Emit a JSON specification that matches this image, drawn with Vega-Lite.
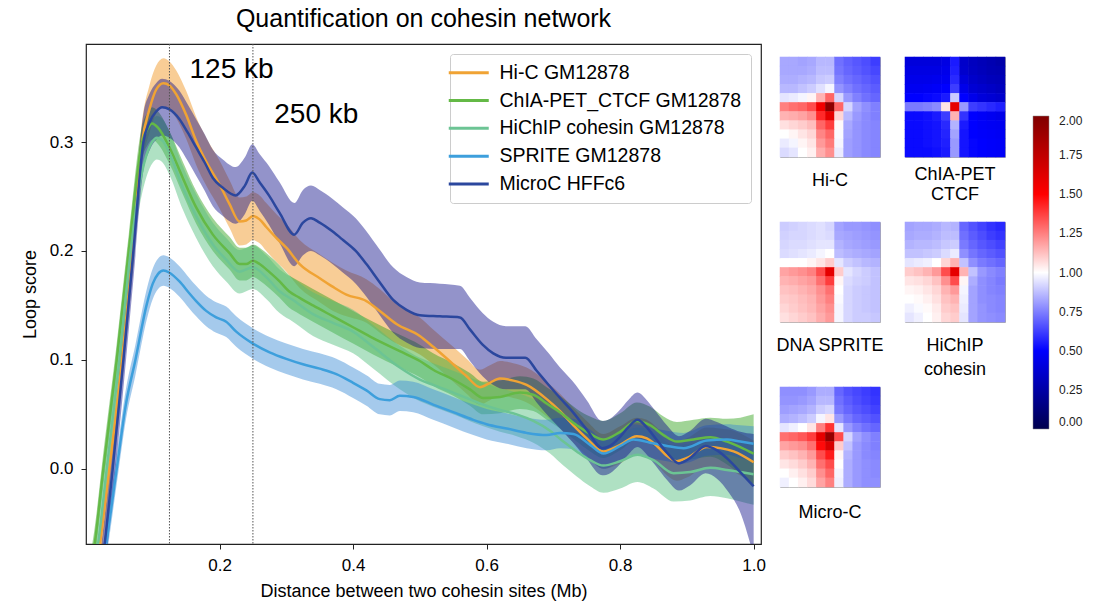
{
"$schema":"https://vega.github.io/schema/vega-lite/v6.json",
"background":"white",
"padding":{"left":20,"top":5,"right":5,"bottom":5},
"config":{"font":"Liberation Sans","view":{"stroke":null},"axis":{"labelFont":"Liberation Sans","titleFont":"Liberation Sans"},"legend":{"labelFont":"Liberation Sans"},"title":{"font":"Liberation Sans"}},
"datasets":{
"curves":[
{"s":"Hi-C GM12878","x":0.01,"y":-0.12,"lo":-0.14,"hi":-0.10},
{"s":"Hi-C GM12878","x":0.021,"y":-0.069,"lo":-0.089,"hi":-0.049},
{"s":"Hi-C GM12878","x":0.035,"y":0.0,"lo":-0.02,"hi":0.02},
{"s":"Hi-C GM12878","x":0.054,"y":0.1,"lo":0.08,"hi":0.12},
{"s":"Hi-C GM12878","x":0.070,"y":0.2,"lo":0.18,"hi":0.22},
{"s":"Hi-C GM12878","x":0.084,"y":0.3,"lo":0.28,"hi":0.32},
{"s":"Hi-C GM12878","x":0.095,"y":0.33,"lo":0.308,"hi":0.352},
{"s":"Hi-C GM12878","x":0.105,"y":0.348,"lo":0.326,"hi":0.37},
{"s":"Hi-C GM12878","x":0.116,"y":0.354,"lo":0.332,"hi":0.377},
{"s":"Hi-C GM12878","x":0.125,"y":0.352,"lo":0.33,"hi":0.374},
{"s":"Hi-C GM12878","x":0.135,"y":0.344,"lo":0.322,"hi":0.366},
{"s":"Hi-C GM12878","x":0.15,"y":0.325,"lo":0.303,"hi":0.347},
{"s":"Hi-C GM12878","x":0.165,"y":0.301,"lo":0.279,"hi":0.323},
{"s":"Hi-C GM12878","x":0.18,"y":0.282,"lo":0.26,"hi":0.304},
{"s":"Hi-C GM12878","x":0.20,"y":0.261,"lo":0.239,"hi":0.283},
{"s":"Hi-C GM12878","x":0.215,"y":0.243,"lo":0.221,"hi":0.265},
{"s":"Hi-C GM12878","x":0.23,"y":0.227,"lo":0.205,"hi":0.249},
{"s":"Hi-C GM12878","x":0.24,"y":0.228,"lo":0.206,"hi":0.25},
{"s":"Hi-C GM12878","x":0.25,"y":0.232,"lo":0.21,"hi":0.254},
{"s":"Hi-C GM12878","x":0.26,"y":0.229,"lo":0.207,"hi":0.251},
{"s":"Hi-C GM12878","x":0.27,"y":0.222,"lo":0.2,"hi":0.244},
{"s":"Hi-C GM12878","x":0.285,"y":0.212,"lo":0.19,"hi":0.234},
{"s":"Hi-C GM12878","x":0.30,"y":0.203,"lo":0.181,"hi":0.225},
{"s":"Hi-C GM12878","x":0.32,"y":0.188,"lo":0.166,"hi":0.21},
{"s":"Hi-C GM12878","x":0.35,"y":0.175,"lo":0.153,"hi":0.197},
{"s":"Hi-C GM12878","x":0.37,"y":0.167,"lo":0.145,"hi":0.189},
{"s":"Hi-C GM12878","x":0.39,"y":0.160,"lo":0.14,"hi":0.182},
{"s":"Hi-C GM12878","x":0.42,"y":0.154,"lo":0.134,"hi":0.174},
{"s":"Hi-C GM12878","x":0.44,"y":0.145,"lo":0.125,"hi":0.165},
{"s":"Hi-C GM12878","x":0.465,"y":0.133,"lo":0.115,"hi":0.151},
{"s":"Hi-C GM12878","x":0.50,"y":0.122,"lo":0.105,"hi":0.139},
{"s":"Hi-C GM12878","x":0.52,"y":0.112,"lo":0.096,"hi":0.128},
{"s":"Hi-C GM12878","x":0.55,"y":0.096,"lo":0.08,"hi":0.112},
{"s":"Hi-C GM12878","x":0.57,"y":0.085,"lo":0.069,"hi":0.101},
{"s":"Hi-C GM12878","x":0.59,"y":0.075,"lo":0.059,"hi":0.091},
{"s":"Hi-C GM12878","x":0.605,"y":0.079,"lo":0.063,"hi":0.095},
{"s":"Hi-C GM12878","x":0.62,"y":0.083,"lo":0.067,"hi":0.099},
{"s":"Hi-C GM12878","x":0.64,"y":0.081,"lo":0.065,"hi":0.097},
{"s":"Hi-C GM12878","x":0.66,"y":0.077,"lo":0.061,"hi":0.093},
{"s":"Hi-C GM12878","x":0.69,"y":0.064,"lo":0.048,"hi":0.08},
{"s":"Hi-C GM12878","x":0.71,"y":0.053,"lo":0.037,"hi":0.069},
{"s":"Hi-C GM12878","x":0.73,"y":0.040,"lo":0.024,"hi":0.056},
{"s":"Hi-C GM12878","x":0.75,"y":0.028,"lo":0.012,"hi":0.044},
{"s":"Hi-C GM12878","x":0.775,"y":0.016,"lo":0.0,"hi":0.032},
{"s":"Hi-C GM12878","x":0.80,"y":0.022,"lo":0.005,"hi":0.039},
{"s":"Hi-C GM12878","x":0.825,"y":0.030,"lo":0.013,"hi":0.047},
{"s":"Hi-C GM12878","x":0.84,"y":0.028,"lo":0.011,"hi":0.045},
{"s":"Hi-C GM12878","x":0.855,"y":0.021,"lo":0.004,"hi":0.038},
{"s":"Hi-C GM12878","x":0.87,"y":0.012,"lo":-0.006,"hi":0.03},
{"s":"Hi-C GM12878","x":0.885,"y":0.007,"lo":-0.011,"hi":0.025},
{"s":"Hi-C GM12878","x":0.90,"y":0.010,"lo":-0.008,"hi":0.028},
{"s":"Hi-C GM12878","x":0.93,"y":0.020,"lo":0.002,"hi":0.038},
{"s":"Hi-C GM12878","x":0.95,"y":0.019,"lo":0.001,"hi":0.037},
{"s":"Hi-C GM12878","x":0.97,"y":0.016,"lo":-0.003,"hi":0.035},
{"s":"Hi-C GM12878","x":1.0,"y":0.006,"lo":-0.014,"hi":0.026},
{"s":"ChIA-PET_CTCF GM12878","x":0.005,"y":-0.10,"lo":-0.115,"hi":-0.085},
{"s":"ChIA-PET_CTCF GM12878","x":0.013,"y":-0.069,"lo":-0.084,"hi":-0.054},
{"s":"ChIA-PET_CTCF GM12878","x":0.026,"y":0.0,"lo":-0.015,"hi":0.015},
{"s":"ChIA-PET_CTCF GM12878","x":0.046,"y":0.1,"lo":0.085,"hi":0.115},
{"s":"ChIA-PET_CTCF GM12878","x":0.064,"y":0.2,"lo":0.185,"hi":0.215},
{"s":"ChIA-PET_CTCF GM12878","x":0.084,"y":0.3,"lo":0.285,"hi":0.315},
{"s":"ChIA-PET_CTCF GM12878","x":0.092,"y":0.312,"lo":0.297,"hi":0.327},
{"s":"ChIA-PET_CTCF GM12878","x":0.099,"y":0.317,"lo":0.302,"hi":0.332},
{"s":"ChIA-PET_CTCF GM12878","x":0.108,"y":0.313,"lo":0.298,"hi":0.328},
{"s":"ChIA-PET_CTCF GM12878","x":0.125,"y":0.295,"lo":0.28,"hi":0.31},
{"s":"ChIA-PET_CTCF GM12878","x":0.145,"y":0.267,"lo":0.252,"hi":0.282},
{"s":"ChIA-PET_CTCF GM12878","x":0.165,"y":0.240,"lo":0.225,"hi":0.255},
{"s":"ChIA-PET_CTCF GM12878","x":0.19,"y":0.215,"lo":0.2,"hi":0.23},
{"s":"ChIA-PET_CTCF GM12878","x":0.215,"y":0.198,"lo":0.183,"hi":0.213},
{"s":"ChIA-PET_CTCF GM12878","x":0.23,"y":0.188,"lo":0.173,"hi":0.203},
{"s":"ChIA-PET_CTCF GM12878","x":0.24,"y":0.188,"lo":0.173,"hi":0.203},
{"s":"ChIA-PET_CTCF GM12878","x":0.25,"y":0.191,"lo":0.176,"hi":0.206},
{"s":"ChIA-PET_CTCF GM12878","x":0.26,"y":0.188,"lo":0.173,"hi":0.203},
{"s":"ChIA-PET_CTCF GM12878","x":0.274,"y":0.181,"lo":0.166,"hi":0.196},
{"s":"ChIA-PET_CTCF GM12878","x":0.29,"y":0.172,"lo":0.157,"hi":0.187},
{"s":"ChIA-PET_CTCF GM12878","x":0.304,"y":0.163,"lo":0.148,"hi":0.178},
{"s":"ChIA-PET_CTCF GM12878","x":0.32,"y":0.157,"lo":0.142,"hi":0.172},
{"s":"ChIA-PET_CTCF GM12878","x":0.34,"y":0.150,"lo":0.135,"hi":0.165},
{"s":"ChIA-PET_CTCF GM12878","x":0.37,"y":0.140,"lo":0.125,"hi":0.155},
{"s":"ChIA-PET_CTCF GM12878","x":0.40,"y":0.130,"lo":0.115,"hi":0.145},
{"s":"ChIA-PET_CTCF GM12878","x":0.43,"y":0.120,"lo":0.105,"hi":0.135},
{"s":"ChIA-PET_CTCF GM12878","x":0.47,"y":0.108,"lo":0.093,"hi":0.123},
{"s":"ChIA-PET_CTCF GM12878","x":0.50,"y":0.099,"lo":0.084,"hi":0.114},
{"s":"ChIA-PET_CTCF GM12878","x":0.52,"y":0.091,"lo":0.076,"hi":0.106},
{"s":"ChIA-PET_CTCF GM12878","x":0.55,"y":0.082,"lo":0.067,"hi":0.097},
{"s":"ChIA-PET_CTCF GM12878","x":0.575,"y":0.073,"lo":0.058,"hi":0.088},
{"s":"ChIA-PET_CTCF GM12878","x":0.595,"y":0.065,"lo":0.05,"hi":0.08},
{"s":"ChIA-PET_CTCF GM12878","x":0.62,"y":0.066,"lo":0.051,"hi":0.081},
{"s":"ChIA-PET_CTCF GM12878","x":0.65,"y":0.070,"lo":0.055,"hi":0.085},
{"s":"ChIA-PET_CTCF GM12878","x":0.67,"y":0.068,"lo":0.053,"hi":0.083},
{"s":"ChIA-PET_CTCF GM12878","x":0.69,"y":0.060,"lo":0.045,"hi":0.075},
{"s":"ChIA-PET_CTCF GM12878","x":0.71,"y":0.052,"lo":0.037,"hi":0.067},
{"s":"ChIA-PET_CTCF GM12878","x":0.735,"y":0.040,"lo":0.025,"hi":0.055},
{"s":"ChIA-PET_CTCF GM12878","x":0.755,"y":0.032,"lo":0.016,"hi":0.048},
{"s":"ChIA-PET_CTCF GM12878","x":0.775,"y":0.027,"lo":0.01,"hi":0.044},
{"s":"ChIA-PET_CTCF GM12878","x":0.80,"y":0.034,"lo":0.017,"hi":0.051},
{"s":"ChIA-PET_CTCF GM12878","x":0.825,"y":0.044,"lo":0.027,"hi":0.061},
{"s":"ChIA-PET_CTCF GM12878","x":0.845,"y":0.040,"lo":0.023,"hi":0.057},
{"s":"ChIA-PET_CTCF GM12878","x":0.865,"y":0.031,"lo":0.014,"hi":0.048},
{"s":"ChIA-PET_CTCF GM12878","x":0.885,"y":0.025,"lo":0.007,"hi":0.043},
{"s":"ChIA-PET_CTCF GM12878","x":0.91,"y":0.027,"lo":0.009,"hi":0.045},
{"s":"ChIA-PET_CTCF GM12878","x":0.935,"y":0.029,"lo":0.011,"hi":0.047},
{"s":"ChIA-PET_CTCF GM12878","x":0.96,"y":0.025,"lo":0.004,"hi":0.046},
{"s":"ChIA-PET_CTCF GM12878","x":0.98,"y":0.020,"lo":-0.005,"hi":0.047},
{"s":"ChIA-PET_CTCF GM12878","x":1.0,"y":0.014,"lo":-0.015,"hi":0.05},
{"s":"HiChIP cohesin GM12878","x":0.005,"y":-0.105,"lo":-0.125,"hi":-0.085},
{"s":"HiChIP cohesin GM12878","x":0.018,"y":-0.069,"lo":-0.089,"hi":-0.049},
{"s":"HiChIP cohesin GM12878","x":0.031,"y":0.0,"lo":-0.02,"hi":0.02},
{"s":"HiChIP cohesin GM12878","x":0.050,"y":0.1,"lo":0.08,"hi":0.12},
{"s":"HiChIP cohesin GM12878","x":0.067,"y":0.2,"lo":0.18,"hi":0.22},
{"s":"HiChIP cohesin GM12878","x":0.080,"y":0.26,"lo":0.24,"hi":0.28},
{"s":"HiChIP cohesin GM12878","x":0.090,"y":0.287,"lo":0.267,"hi":0.307},
{"s":"HiChIP cohesin GM12878","x":0.100,"y":0.301,"lo":0.281,"hi":0.321},
{"s":"HiChIP cohesin GM12878","x":0.106,"y":0.304,"lo":0.284,"hi":0.324},
{"s":"HiChIP cohesin GM12878","x":0.115,"y":0.301,"lo":0.281,"hi":0.321},
{"s":"HiChIP cohesin GM12878","x":0.125,"y":0.290,"lo":0.27,"hi":0.31},
{"s":"HiChIP cohesin GM12878","x":0.145,"y":0.258,"lo":0.238,"hi":0.278},
{"s":"HiChIP cohesin GM12878","x":0.165,"y":0.232,"lo":0.212,"hi":0.252},
{"s":"HiChIP cohesin GM12878","x":0.19,"y":0.206,"lo":0.186,"hi":0.226},
{"s":"HiChIP cohesin GM12878","x":0.21,"y":0.192,"lo":0.172,"hi":0.212},
{"s":"HiChIP cohesin GM12878","x":0.23,"y":0.181,"lo":0.161,"hi":0.201},
{"s":"HiChIP cohesin GM12878","x":0.25,"y":0.185,"lo":0.165,"hi":0.205},
{"s":"HiChIP cohesin GM12878","x":0.27,"y":0.176,"lo":0.156,"hi":0.196},
{"s":"HiChIP cohesin GM12878","x":0.29,"y":0.163,"lo":0.143,"hi":0.183},
{"s":"HiChIP cohesin GM12878","x":0.31,"y":0.155,"lo":0.135,"hi":0.175},
{"s":"HiChIP cohesin GM12878","x":0.34,"y":0.142,"lo":0.122,"hi":0.162},
{"s":"HiChIP cohesin GM12878","x":0.37,"y":0.134,"lo":0.114,"hi":0.154},
{"s":"HiChIP cohesin GM12878","x":0.40,"y":0.126,"lo":0.106,"hi":0.146},
{"s":"HiChIP cohesin GM12878","x":0.43,"y":0.112,"lo":0.092,"hi":0.132},
{"s":"HiChIP cohesin GM12878","x":0.47,"y":0.093,"lo":0.073,"hi":0.113},
{"s":"HiChIP cohesin GM12878","x":0.50,"y":0.082,"lo":0.062,"hi":0.102},
{"s":"HiChIP cohesin GM12878","x":0.52,"y":0.077,"lo":0.057,"hi":0.097},
{"s":"HiChIP cohesin GM12878","x":0.55,"y":0.070,"lo":0.05,"hi":0.09},
{"s":"HiChIP cohesin GM12878","x":0.595,"y":0.059,"lo":0.039,"hi":0.079},
{"s":"HiChIP cohesin GM12878","x":0.62,"y":0.054,"lo":0.034,"hi":0.074},
{"s":"HiChIP cohesin GM12878","x":0.645,"y":0.050,"lo":0.03,"hi":0.07},
{"s":"HiChIP cohesin GM12878","x":0.67,"y":0.044,"lo":0.024,"hi":0.064},
{"s":"HiChIP cohesin GM12878","x":0.695,"y":0.035,"lo":0.014,"hi":0.056},
{"s":"HiChIP cohesin GM12878","x":0.715,"y":0.025,"lo":0.003,"hi":0.047},
{"s":"HiChIP cohesin GM12878","x":0.735,"y":0.016,"lo":-0.007,"hi":0.039},
{"s":"HiChIP cohesin GM12878","x":0.755,"y":0.008,"lo":-0.016,"hi":0.032},
{"s":"HiChIP cohesin GM12878","x":0.775,"y":0.003,"lo":-0.022,"hi":0.028},
{"s":"HiChIP cohesin GM12878","x":0.80,"y":0.007,"lo":-0.018,"hi":0.032},
{"s":"HiChIP cohesin GM12878","x":0.826,"y":0.013,"lo":-0.012,"hi":0.038},
{"s":"HiChIP cohesin GM12878","x":0.85,"y":0.008,"lo":-0.018,"hi":0.034},
{"s":"HiChIP cohesin GM12878","x":0.88,"y":-0.004,"lo":-0.03,"hi":0.022},
{"s":"HiChIP cohesin GM12878","x":0.905,"y":-0.003,"lo":-0.029,"hi":0.023},
{"s":"HiChIP cohesin GM12878","x":0.935,"y":0.001,"lo":-0.025,"hi":0.027},
{"s":"HiChIP cohesin GM12878","x":0.96,"y":-0.001,"lo":-0.027,"hi":0.025},
{"s":"HiChIP cohesin GM12878","x":0.98,"y":-0.003,"lo":-0.03,"hi":0.024},
{"s":"HiChIP cohesin GM12878","x":1.0,"y":-0.005,"lo":-0.033,"hi":0.023},
{"s":"SPRITE GM12878","x":0.01,"y":-0.13,"lo":-0.144,"hi":-0.116},
{"s":"SPRITE GM12878","x":0.030,"y":-0.069,"lo":-0.083,"hi":-0.055},
{"s":"SPRITE GM12878","x":0.046,"y":0.0,"lo":-0.014,"hi":0.014},
{"s":"SPRITE GM12878","x":0.060,"y":0.06,"lo":0.046,"hi":0.074},
{"s":"SPRITE GM12878","x":0.074,"y":0.1,"lo":0.086,"hi":0.114},
{"s":"SPRITE GM12878","x":0.091,"y":0.151,"lo":0.137,"hi":0.165},
{"s":"SPRITE GM12878","x":0.100,"y":0.170,"lo":0.156,"hi":0.184},
{"s":"SPRITE GM12878","x":0.108,"y":0.179,"lo":0.165,"hi":0.193},
{"s":"SPRITE GM12878","x":0.116,"y":0.182,"lo":0.168,"hi":0.196},
{"s":"SPRITE GM12878","x":0.125,"y":0.180,"lo":0.166,"hi":0.194},
{"s":"SPRITE GM12878","x":0.14,"y":0.172,"lo":0.158,"hi":0.186},
{"s":"SPRITE GM12878","x":0.155,"y":0.161,"lo":0.147,"hi":0.175},
{"s":"SPRITE GM12878","x":0.165,"y":0.154,"lo":0.14,"hi":0.168},
{"s":"SPRITE GM12878","x":0.18,"y":0.145,"lo":0.131,"hi":0.159},
{"s":"SPRITE GM12878","x":0.195,"y":0.139,"lo":0.125,"hi":0.153},
{"s":"SPRITE GM12878","x":0.21,"y":0.135,"lo":0.121,"hi":0.149},
{"s":"SPRITE GM12878","x":0.225,"y":0.126,"lo":0.112,"hi":0.14},
{"s":"SPRITE GM12878","x":0.25,"y":0.115,"lo":0.101,"hi":0.129},
{"s":"SPRITE GM12878","x":0.275,"y":0.107,"lo":0.093,"hi":0.121},
{"s":"SPRITE GM12878","x":0.30,"y":0.101,"lo":0.087,"hi":0.115},
{"s":"SPRITE GM12878","x":0.325,"y":0.096,"lo":0.082,"hi":0.11},
{"s":"SPRITE GM12878","x":0.35,"y":0.092,"lo":0.078,"hi":0.106},
{"s":"SPRITE GM12878","x":0.375,"y":0.087,"lo":0.073,"hi":0.101},
{"s":"SPRITE GM12878","x":0.40,"y":0.079,"lo":0.065,"hi":0.093},
{"s":"SPRITE GM12878","x":0.42,"y":0.072,"lo":0.058,"hi":0.086},
{"s":"SPRITE GM12878","x":0.44,"y":0.064,"lo":0.05,"hi":0.078},
{"s":"SPRITE GM12878","x":0.455,"y":0.063,"lo":0.049,"hi":0.077},
{"s":"SPRITE GM12878","x":0.47,"y":0.067,"lo":0.053,"hi":0.081},
{"s":"SPRITE GM12878","x":0.49,"y":0.066,"lo":0.052,"hi":0.08},
{"s":"SPRITE GM12878","x":0.52,"y":0.059,"lo":0.045,"hi":0.073},
{"s":"SPRITE GM12878","x":0.55,"y":0.052,"lo":0.038,"hi":0.066},
{"s":"SPRITE GM12878","x":0.58,"y":0.045,"lo":0.031,"hi":0.059},
{"s":"SPRITE GM12878","x":0.60,"y":0.041,"lo":0.027,"hi":0.055},
{"s":"SPRITE GM12878","x":0.63,"y":0.037,"lo":0.023,"hi":0.051},
{"s":"SPRITE GM12878","x":0.66,"y":0.033,"lo":0.019,"hi":0.047},
{"s":"SPRITE GM12878","x":0.69,"y":0.031,"lo":0.017,"hi":0.045},
{"s":"SPRITE GM12878","x":0.71,"y":0.033,"lo":0.019,"hi":0.047},
{"s":"SPRITE GM12878","x":0.73,"y":0.032,"lo":0.018,"hi":0.046},
{"s":"SPRITE GM12878","x":0.755,"y":0.022,"lo":0.008,"hi":0.036},
{"s":"SPRITE GM12878","x":0.775,"y":0.014,"lo":0.0,"hi":0.028},
{"s":"SPRITE GM12878","x":0.80,"y":0.021,"lo":0.007,"hi":0.035},
{"s":"SPRITE GM12878","x":0.82,"y":0.027,"lo":0.013,"hi":0.041},
{"s":"SPRITE GM12878","x":0.845,"y":0.024,"lo":0.01,"hi":0.038},
{"s":"SPRITE GM12878","x":0.87,"y":0.021,"lo":0.007,"hi":0.035},
{"s":"SPRITE GM12878","x":0.895,"y":0.019,"lo":0.005,"hi":0.033},
{"s":"SPRITE GM12878","x":0.93,"y":0.026,"lo":0.012,"hi":0.04},
{"s":"SPRITE GM12878","x":0.96,"y":0.027,"lo":0.013,"hi":0.041},
{"s":"SPRITE GM12878","x":0.98,"y":0.025,"lo":0.01,"hi":0.04},
{"s":"SPRITE GM12878","x":1.0,"y":0.023,"lo":0.007,"hi":0.039},
{"s":"MicroC HFFc6","x":0.01,"y":-0.16,"lo":-0.186,"hi":-0.134},
{"s":"MicroC HFFc6","x":0.028,"y":-0.069,"lo":-0.095,"hi":-0.043},
{"s":"MicroC HFFc6","x":0.040,"y":0.0,"lo":-0.026,"hi":0.026},
{"s":"MicroC HFFc6","x":0.056,"y":0.1,"lo":0.074,"hi":0.126},
{"s":"MicroC HFFc6","x":0.071,"y":0.2,"lo":0.174,"hi":0.226},
{"s":"MicroC HFFc6","x":0.086,"y":0.3,"lo":0.274,"hi":0.326},
{"s":"MicroC HFFc6","x":0.095,"y":0.318,"lo":0.292,"hi":0.344},
{"s":"MicroC HFFc6","x":0.105,"y":0.328,"lo":0.302,"hi":0.354},
{"s":"MicroC HFFc6","x":0.114,"y":0.332,"lo":0.306,"hi":0.358},
{"s":"MicroC HFFc6","x":0.125,"y":0.330,"lo":0.304,"hi":0.356},
{"s":"MicroC HFFc6","x":0.14,"y":0.321,"lo":0.295,"hi":0.347},
{"s":"MicroC HFFc6","x":0.152,"y":0.309,"lo":0.283,"hi":0.335},
{"s":"MicroC HFFc6","x":0.165,"y":0.295,"lo":0.269,"hi":0.321},
{"s":"MicroC HFFc6","x":0.178,"y":0.281,"lo":0.255,"hi":0.307},
{"s":"MicroC HFFc6","x":0.19,"y":0.267,"lo":0.241,"hi":0.293},
{"s":"MicroC HFFc6","x":0.205,"y":0.258,"lo":0.232,"hi":0.284},
{"s":"MicroC HFFc6","x":0.224,"y":0.251,"lo":0.225,"hi":0.277},
{"s":"MicroC HFFc6","x":0.238,"y":0.260,"lo":0.234,"hi":0.286},
{"s":"MicroC HFFc6","x":0.249,"y":0.272,"lo":0.246,"hi":0.298},
{"s":"MicroC HFFc6","x":0.26,"y":0.263,"lo":0.237,"hi":0.289},
{"s":"MicroC HFFc6","x":0.274,"y":0.251,"lo":0.224,"hi":0.278},
{"s":"MicroC HFFc6","x":0.29,"y":0.235,"lo":0.207,"hi":0.263},
{"s":"MicroC HFFc6","x":0.312,"y":0.215,"lo":0.186,"hi":0.244},
{"s":"MicroC HFFc6","x":0.325,"y":0.226,"lo":0.196,"hi":0.256},
{"s":"MicroC HFFc6","x":0.337,"y":0.230,"lo":0.2,"hi":0.26},
{"s":"MicroC HFFc6","x":0.35,"y":0.226,"lo":0.196,"hi":0.256},
{"s":"MicroC HFFc6","x":0.369,"y":0.218,"lo":0.188,"hi":0.248},
{"s":"MicroC HFFc6","x":0.385,"y":0.210,"lo":0.18,"hi":0.24},
{"s":"MicroC HFFc6","x":0.404,"y":0.200,"lo":0.17,"hi":0.23},
{"s":"MicroC HFFc6","x":0.42,"y":0.188,"lo":0.158,"hi":0.218},
{"s":"MicroC HFFc6","x":0.439,"y":0.172,"lo":0.142,"hi":0.202},
{"s":"MicroC HFFc6","x":0.46,"y":0.155,"lo":0.125,"hi":0.185},
{"s":"MicroC HFFc6","x":0.48,"y":0.146,"lo":0.116,"hi":0.176},
{"s":"MicroC HFFc6","x":0.50,"y":0.141,"lo":0.111,"hi":0.171},
{"s":"MicroC HFFc6","x":0.53,"y":0.140,"lo":0.11,"hi":0.17},
{"s":"MicroC HFFc6","x":0.56,"y":0.139,"lo":0.11,"hi":0.168},
{"s":"MicroC HFFc6","x":0.575,"y":0.128,"lo":0.099,"hi":0.157},
{"s":"MicroC HFFc6","x":0.594,"y":0.114,"lo":0.085,"hi":0.143},
{"s":"MicroC HFFc6","x":0.61,"y":0.106,"lo":0.077,"hi":0.135},
{"s":"MicroC HFFc6","x":0.629,"y":0.102,"lo":0.073,"hi":0.131},
{"s":"MicroC HFFc6","x":0.658,"y":0.102,"lo":0.073,"hi":0.131},
{"s":"MicroC HFFc6","x":0.675,"y":0.090,"lo":0.061,"hi":0.119},
{"s":"MicroC HFFc6","x":0.693,"y":0.077,"lo":0.048,"hi":0.106},
{"s":"MicroC HFFc6","x":0.71,"y":0.065,"lo":0.037,"hi":0.093},
{"s":"MicroC HFFc6","x":0.728,"y":0.053,"lo":0.025,"hi":0.081},
{"s":"MicroC HFFc6","x":0.75,"y":0.036,"lo":0.009,"hi":0.063},
{"s":"MicroC HFFc6","x":0.773,"y":0.019,"lo":-0.006,"hi":0.044},
{"s":"MicroC HFFc6","x":0.785,"y":0.021,"lo":-0.004,"hi":0.046},
{"s":"MicroC HFFc6","x":0.798,"y":0.028,"lo":0.003,"hi":0.053},
{"s":"MicroC HFFc6","x":0.812,"y":0.038,"lo":0.013,"hi":0.063},
{"s":"MicroC HFFc6","x":0.826,"y":0.045,"lo":0.02,"hi":0.07},
{"s":"MicroC HFFc6","x":0.84,"y":0.038,"lo":0.013,"hi":0.063},
{"s":"MicroC HFFc6","x":0.853,"y":0.028,"lo":0.003,"hi":0.053},
{"s":"MicroC HFFc6","x":0.87,"y":0.015,"lo":-0.01,"hi":0.04},
{"s":"MicroC HFFc6","x":0.888,"y":0.005,"lo":-0.02,"hi":0.03},
{"s":"MicroC HFFc6","x":0.905,"y":0.010,"lo":-0.015,"hi":0.035},
{"s":"MicroC HFFc6","x":0.928,"y":0.021,"lo":-0.004,"hi":0.046},
{"s":"MicroC HFFc6","x":0.945,"y":0.017,"lo":-0.009,"hi":0.043},
{"s":"MicroC HFFc6","x":0.963,"y":0.008,"lo":-0.022,"hi":0.038},
{"s":"MicroC HFFc6","x":0.98,"y":-0.003,"lo":-0.04,"hi":0.034},
{"s":"MicroC HFFc6","x":1.0,"y":-0.016,"lo":-0.08,"hi":0.032}
],
"hic":[
{"r":0,"c":0,"v":0.83},{"r":0,"c":1,"v":0.83},{"r":0,"c":2,"v":0.82},{"r":0,"c":3,"v":0.83},{"r":0,"c":4,"v":0.86},{"r":0,"c":5,"v":0.86},{"r":0,"c":6,"v":0.72},{"r":0,"c":7,"v":0.69},{"r":0,"c":8,"v":0.67},{"r":0,"c":9,"v":0.65},{"r":0,"c":10,"v":0.62},
{"r":1,"c":0,"v":0.83},{"r":1,"c":1,"v":0.83},{"r":1,"c":2,"v":0.83},{"r":1,"c":3,"v":0.84},{"r":1,"c":4,"v":0.87},{"r":1,"c":5,"v":0.87},{"r":1,"c":6,"v":0.73},{"r":1,"c":7,"v":0.70},{"r":1,"c":8,"v":0.68},{"r":1,"c":9,"v":0.66},{"r":1,"c":10,"v":0.64},
{"r":2,"c":0,"v":0.84},{"r":2,"c":1,"v":0.84},{"r":2,"c":2,"v":0.85},{"r":2,"c":3,"v":0.86},{"r":2,"c":4,"v":0.89},{"r":2,"c":5,"v":0.90},{"r":2,"c":6,"v":0.75},{"r":2,"c":7,"v":0.72},{"r":2,"c":8,"v":0.70},{"r":2,"c":9,"v":0.68},{"r":2,"c":10,"v":0.66},
{"r":3,"c":0,"v":0.86},{"r":3,"c":1,"v":0.86},{"r":3,"c":2,"v":0.88},{"r":3,"c":3,"v":0.90},{"r":3,"c":4,"v":0.94},{"r":3,"c":5,"v":0.98},{"r":3,"c":6,"v":0.79},{"r":3,"c":7,"v":0.75},{"r":3,"c":8,"v":0.72},{"r":3,"c":9,"v":0.70},{"r":3,"c":10,"v":0.68},
{"r":4,"c":0,"v":0.95},{"r":4,"c":1,"v":0.96},{"r":4,"c":2,"v":0.98},{"r":4,"c":3,"v":1.02},{"r":4,"c":4,"v":1.15},{"r":4,"c":5,"v":1.30},{"r":4,"c":6,"v":0.92},{"r":4,"c":7,"v":0.80},{"r":4,"c":8,"v":0.75},{"r":4,"c":9,"v":0.72},{"r":4,"c":10,"v":0.70},
{"r":5,"c":0,"v":1.25},{"r":5,"c":1,"v":1.28},{"r":5,"c":2,"v":1.30},{"r":5,"c":3,"v":1.35},{"r":5,"c":4,"v":1.55},{"r":5,"c":5,"v":1.95},{"r":5,"c":6,"v":1.30},{"r":5,"c":7,"v":0.92},{"r":5,"c":8,"v":0.82},{"r":5,"c":9,"v":0.78},{"r":5,"c":10,"v":0.75},
{"r":6,"c":0,"v":1.15},{"r":6,"c":1,"v":1.16},{"r":6,"c":2,"v":1.18},{"r":6,"c":3,"v":1.22},{"r":6,"c":4,"v":1.42},{"r":6,"c":5,"v":1.60},{"r":6,"c":6,"v":1.08},{"r":6,"c":7,"v":0.86},{"r":6,"c":8,"v":0.80},{"r":6,"c":9,"v":0.77},{"r":6,"c":10,"v":0.75},
{"r":7,"c":0,"v":1.06},{"r":7,"c":1,"v":1.08},{"r":7,"c":2,"v":1.10},{"r":7,"c":3,"v":1.13},{"r":7,"c":4,"v":1.30},{"r":7,"c":5,"v":1.38},{"r":7,"c":6,"v":1.01},{"r":7,"c":7,"v":0.83},{"r":7,"c":8,"v":0.79},{"r":7,"c":9,"v":0.77},{"r":7,"c":10,"v":0.76},
{"r":8,"c":0,"v":1.00},{"r":8,"c":1,"v":1.02},{"r":8,"c":2,"v":1.05},{"r":8,"c":3,"v":1.08},{"r":8,"c":4,"v":1.24},{"r":8,"c":5,"v":1.30},{"r":8,"c":6,"v":0.99},{"r":8,"c":7,"v":0.82},{"r":8,"c":8,"v":0.79},{"r":8,"c":9,"v":0.77},{"r":8,"c":10,"v":0.76},
{"r":9,"c":0,"v":0.96},{"r":9,"c":1,"v":0.98},{"r":9,"c":2,"v":1.02},{"r":9,"c":3,"v":1.05},{"r":9,"c":4,"v":1.20},{"r":9,"c":5,"v":1.26},{"r":9,"c":6,"v":0.98},{"r":9,"c":7,"v":0.81},{"r":9,"c":8,"v":0.79},{"r":9,"c":9,"v":0.77},{"r":9,"c":10,"v":0.76},
{"r":10,"c":0,"v":0.93},{"r":10,"c":1,"v":0.95},{"r":10,"c":2,"v":1.00},{"r":10,"c":3,"v":1.03},{"r":10,"c":4,"v":1.16},{"r":10,"c":5,"v":1.22},{"r":10,"c":6,"v":0.96},{"r":10,"c":7,"v":0.81},{"r":10,"c":8,"v":0.79},{"r":10,"c":9,"v":0.77},{"r":10,"c":10,"v":0.76}
],
"chia":[
{"r":0,"c":0,"v":0.40},{"r":0,"c":1,"v":0.40},{"r":0,"c":2,"v":0.40},{"r":0,"c":3,"v":0.40},{"r":0,"c":4,"v":0.42},{"r":0,"c":5,"v":0.55},{"r":0,"c":6,"v":0.35},{"r":0,"c":7,"v":0.32},{"r":0,"c":8,"v":0.30},{"r":0,"c":9,"v":0.28},{"r":0,"c":10,"v":0.26},
{"r":1,"c":0,"v":0.42},{"r":1,"c":1,"v":0.42},{"r":1,"c":2,"v":0.42},{"r":1,"c":3,"v":0.42},{"r":1,"c":4,"v":0.44},{"r":1,"c":5,"v":0.56},{"r":1,"c":6,"v":0.36},{"r":1,"c":7,"v":0.33},{"r":1,"c":8,"v":0.31},{"r":1,"c":9,"v":0.29},{"r":1,"c":10,"v":0.28},
{"r":2,"c":0,"v":0.44},{"r":2,"c":1,"v":0.44},{"r":2,"c":2,"v":0.44},{"r":2,"c":3,"v":0.45},{"r":2,"c":4,"v":0.46},{"r":2,"c":5,"v":0.58},{"r":2,"c":6,"v":0.40},{"r":2,"c":7,"v":0.35},{"r":2,"c":8,"v":0.33},{"r":2,"c":9,"v":0.31},{"r":2,"c":10,"v":0.30},
{"r":3,"c":0,"v":0.46},{"r":3,"c":1,"v":0.46},{"r":3,"c":2,"v":0.47},{"r":3,"c":3,"v":0.48},{"r":3,"c":4,"v":0.50},{"r":3,"c":5,"v":0.62},{"r":3,"c":6,"v":0.44},{"r":3,"c":7,"v":0.38},{"r":3,"c":8,"v":0.36},{"r":3,"c":9,"v":0.34},{"r":3,"c":10,"v":0.32},
{"r":4,"c":0,"v":0.50},{"r":4,"c":1,"v":0.50},{"r":4,"c":2,"v":0.51},{"r":4,"c":3,"v":0.52},{"r":4,"c":4,"v":0.55},{"r":4,"c":5,"v":0.90},{"r":4,"c":6,"v":0.50},{"r":4,"c":7,"v":0.44},{"r":4,"c":8,"v":0.40},{"r":4,"c":9,"v":0.38},{"r":4,"c":10,"v":0.36},
{"r":5,"c":0,"v":0.74},{"r":5,"c":1,"v":0.74},{"r":5,"c":2,"v":0.75},{"r":5,"c":3,"v":0.77},{"r":5,"c":4,"v":1.05},{"r":5,"c":5,"v":1.60},{"r":5,"c":6,"v":0.80},{"r":5,"c":7,"v":0.62},{"r":5,"c":8,"v":0.60},{"r":5,"c":9,"v":0.58},{"r":5,"c":10,"v":0.56},
{"r":6,"c":0,"v":0.52},{"r":6,"c":1,"v":0.52},{"r":6,"c":2,"v":0.53},{"r":6,"c":3,"v":0.55},{"r":6,"c":4,"v":0.62},{"r":6,"c":5,"v":1.15},{"r":6,"c":6,"v":0.60},{"r":6,"c":7,"v":0.50},{"r":6,"c":8,"v":0.48},{"r":6,"c":9,"v":0.46},{"r":6,"c":10,"v":0.44},
{"r":7,"c":0,"v":0.52},{"r":7,"c":1,"v":0.52},{"r":7,"c":2,"v":0.53},{"r":7,"c":3,"v":0.54},{"r":7,"c":4,"v":0.58},{"r":7,"c":5,"v":0.85},{"r":7,"c":6,"v":0.55},{"r":7,"c":7,"v":0.50},{"r":7,"c":8,"v":0.48},{"r":7,"c":9,"v":0.47},{"r":7,"c":10,"v":0.46},
{"r":8,"c":0,"v":0.52},{"r":8,"c":1,"v":0.52},{"r":8,"c":2,"v":0.53},{"r":8,"c":3,"v":0.54},{"r":8,"c":4,"v":0.57},{"r":8,"c":5,"v":0.82},{"r":8,"c":6,"v":0.54},{"r":8,"c":7,"v":0.50},{"r":8,"c":8,"v":0.49},{"r":8,"c":9,"v":0.48},{"r":8,"c":10,"v":0.47},
{"r":9,"c":0,"v":0.52},{"r":9,"c":1,"v":0.52},{"r":9,"c":2,"v":0.53},{"r":9,"c":3,"v":0.54},{"r":9,"c":4,"v":0.56},{"r":9,"c":5,"v":0.80},{"r":9,"c":6,"v":0.54},{"r":9,"c":7,"v":0.51},{"r":9,"c":8,"v":0.50},{"r":9,"c":9,"v":0.49},{"r":9,"c":10,"v":0.48},
{"r":10,"c":0,"v":0.52},{"r":10,"c":1,"v":0.52},{"r":10,"c":2,"v":0.52},{"r":10,"c":3,"v":0.53},{"r":10,"c":4,"v":0.55},{"r":10,"c":5,"v":0.80},{"r":10,"c":6,"v":0.54},{"r":10,"c":7,"v":0.51},{"r":10,"c":8,"v":0.50},{"r":10,"c":9,"v":0.49},{"r":10,"c":10,"v":0.48}
],
"sprite":[
{"r":0,"c":0,"v":0.90},{"r":0,"c":1,"v":0.91},{"r":0,"c":2,"v":0.92},{"r":0,"c":3,"v":0.93},{"r":0,"c":4,"v":0.94},{"r":0,"c":5,"v":0.92},{"r":0,"c":6,"v":0.82},{"r":0,"c":7,"v":0.80},{"r":0,"c":8,"v":0.80},{"r":0,"c":9,"v":0.79},{"r":0,"c":10,"v":0.78},
{"r":1,"c":0,"v":0.91},{"r":1,"c":1,"v":0.92},{"r":1,"c":2,"v":0.92},{"r":1,"c":3,"v":0.93},{"r":1,"c":4,"v":0.94},{"r":1,"c":5,"v":0.93},{"r":1,"c":6,"v":0.83},{"r":1,"c":7,"v":0.82},{"r":1,"c":8,"v":0.81},{"r":1,"c":9,"v":0.80},{"r":1,"c":10,"v":0.79},
{"r":2,"c":0,"v":0.92},{"r":2,"c":1,"v":0.93},{"r":2,"c":2,"v":0.93},{"r":2,"c":3,"v":0.94},{"r":2,"c":4,"v":0.95},{"r":2,"c":5,"v":0.95},{"r":2,"c":6,"v":0.85},{"r":2,"c":7,"v":0.83},{"r":2,"c":8,"v":0.82},{"r":2,"c":9,"v":0.81},{"r":2,"c":10,"v":0.80},
{"r":3,"c":0,"v":0.93},{"r":3,"c":1,"v":0.94},{"r":3,"c":2,"v":0.95},{"r":3,"c":3,"v":0.96},{"r":3,"c":4,"v":0.98},{"r":3,"c":5,"v":1.00},{"r":3,"c":6,"v":0.87},{"r":3,"c":7,"v":0.85},{"r":3,"c":8,"v":0.84},{"r":3,"c":9,"v":0.83},{"r":3,"c":10,"v":0.82},
{"r":4,"c":0,"v":1.00},{"r":4,"c":1,"v":1.00},{"r":4,"c":2,"v":1.00},{"r":4,"c":3,"v":1.02},{"r":4,"c":4,"v":1.05},{"r":4,"c":5,"v":1.10},{"r":4,"c":6,"v":0.95},{"r":4,"c":7,"v":0.90},{"r":4,"c":8,"v":0.88},{"r":4,"c":9,"v":0.86},{"r":4,"c":10,"v":0.85},
{"r":5,"c":0,"v":1.18},{"r":5,"c":1,"v":1.20},{"r":5,"c":2,"v":1.22},{"r":5,"c":3,"v":1.25},{"r":5,"c":4,"v":1.35},{"r":5,"c":5,"v":1.60},{"r":5,"c":6,"v":1.10},{"r":5,"c":7,"v":0.95},{"r":5,"c":8,"v":0.92},{"r":5,"c":9,"v":0.90},{"r":5,"c":10,"v":0.88},
{"r":6,"c":0,"v":1.15},{"r":6,"c":1,"v":1.16},{"r":6,"c":2,"v":1.18},{"r":6,"c":3,"v":1.20},{"r":6,"c":4,"v":1.28},{"r":6,"c":5,"v":1.38},{"r":6,"c":6,"v":1.02},{"r":6,"c":7,"v":0.93},{"r":6,"c":8,"v":0.91},{"r":6,"c":9,"v":0.90},{"r":6,"c":10,"v":0.88},
{"r":7,"c":0,"v":1.12},{"r":7,"c":1,"v":1.13},{"r":7,"c":2,"v":1.15},{"r":7,"c":3,"v":1.17},{"r":7,"c":4,"v":1.22},{"r":7,"c":5,"v":1.28},{"r":7,"c":6,"v":1.00},{"r":7,"c":7,"v":0.92},{"r":7,"c":8,"v":0.90},{"r":7,"c":9,"v":0.89},{"r":7,"c":10,"v":0.88},
{"r":8,"c":0,"v":1.10},{"r":8,"c":1,"v":1.11},{"r":8,"c":2,"v":1.13},{"r":8,"c":3,"v":1.15},{"r":8,"c":4,"v":1.20},{"r":8,"c":5,"v":1.25},{"r":8,"c":6,"v":0.99},{"r":8,"c":7,"v":0.92},{"r":8,"c":8,"v":0.90},{"r":8,"c":9,"v":0.89},{"r":8,"c":10,"v":0.88},
{"r":9,"c":0,"v":1.08},{"r":9,"c":1,"v":1.10},{"r":9,"c":2,"v":1.12},{"r":9,"c":3,"v":1.14},{"r":9,"c":4,"v":1.18},{"r":9,"c":5,"v":1.22},{"r":9,"c":6,"v":0.98},{"r":9,"c":7,"v":0.92},{"r":9,"c":8,"v":0.90},{"r":9,"c":9,"v":0.89},{"r":9,"c":10,"v":0.88},
{"r":10,"c":0,"v":1.06},{"r":10,"c":1,"v":1.08},{"r":10,"c":2,"v":1.10},{"r":10,"c":3,"v":1.12},{"r":10,"c":4,"v":1.16},{"r":10,"c":5,"v":1.20},{"r":10,"c":6,"v":0.98},{"r":10,"c":7,"v":0.92},{"r":10,"c":8,"v":0.90},{"r":10,"c":9,"v":0.90},{"r":10,"c":10,"v":0.89}
],
"hichip":[
{"r":0,"c":0,"v":0.82},{"r":0,"c":1,"v":0.83},{"r":0,"c":2,"v":0.83},{"r":0,"c":3,"v":0.84},{"r":0,"c":4,"v":0.86},{"r":0,"c":5,"v":0.85},{"r":0,"c":6,"v":0.70},{"r":0,"c":7,"v":0.66},{"r":0,"c":8,"v":0.63},{"r":0,"c":9,"v":0.60},{"r":0,"c":10,"v":0.58},
{"r":1,"c":0,"v":0.83},{"r":1,"c":1,"v":0.84},{"r":1,"c":2,"v":0.84},{"r":1,"c":3,"v":0.85},{"r":1,"c":4,"v":0.87},{"r":1,"c":5,"v":0.87},{"r":1,"c":6,"v":0.72},{"r":1,"c":7,"v":0.68},{"r":1,"c":8,"v":0.65},{"r":1,"c":9,"v":0.62},{"r":1,"c":10,"v":0.60},
{"r":2,"c":0,"v":0.85},{"r":2,"c":1,"v":0.86},{"r":2,"c":2,"v":0.86},{"r":2,"c":3,"v":0.87},{"r":2,"c":4,"v":0.89},{"r":2,"c":5,"v":0.90},{"r":2,"c":6,"v":0.74},{"r":2,"c":7,"v":0.70},{"r":2,"c":8,"v":0.67},{"r":2,"c":9,"v":0.65},{"r":2,"c":10,"v":0.63},
{"r":3,"c":0,"v":0.88},{"r":3,"c":1,"v":0.88},{"r":3,"c":2,"v":0.89},{"r":3,"c":3,"v":0.90},{"r":3,"c":4,"v":0.93},{"r":3,"c":5,"v":0.96},{"r":3,"c":6,"v":0.78},{"r":3,"c":7,"v":0.73},{"r":3,"c":8,"v":0.70},{"r":3,"c":9,"v":0.68},{"r":3,"c":10,"v":0.66},
{"r":4,"c":0,"v":0.95},{"r":4,"c":1,"v":0.96},{"r":4,"c":2,"v":0.97},{"r":4,"c":3,"v":1.00},{"r":4,"c":4,"v":1.08},{"r":4,"c":5,"v":1.15},{"r":4,"c":6,"v":0.88},{"r":4,"c":7,"v":0.78},{"r":4,"c":8,"v":0.74},{"r":4,"c":9,"v":0.72},{"r":4,"c":10,"v":0.70},
{"r":5,"c":0,"v":1.10},{"r":5,"c":1,"v":1.12},{"r":5,"c":2,"v":1.15},{"r":5,"c":3,"v":1.20},{"r":5,"c":4,"v":1.35},{"r":5,"c":5,"v":1.60},{"r":5,"c":6,"v":1.15},{"r":5,"c":7,"v":0.88},{"r":5,"c":8,"v":0.80},{"r":5,"c":9,"v":0.77},{"r":5,"c":10,"v":0.75},
{"r":6,"c":0,"v":1.05},{"r":6,"c":1,"v":1.06},{"r":6,"c":2,"v":1.08},{"r":6,"c":3,"v":1.12},{"r":6,"c":4,"v":1.22},{"r":6,"c":5,"v":1.35},{"r":6,"c":6,"v":1.02},{"r":6,"c":7,"v":0.84},{"r":6,"c":8,"v":0.78},{"r":6,"c":9,"v":0.76},{"r":6,"c":10,"v":0.74},
{"r":7,"c":0,"v":1.02},{"r":7,"c":1,"v":1.03},{"r":7,"c":2,"v":1.05},{"r":7,"c":3,"v":1.08},{"r":7,"c":4,"v":1.15},{"r":7,"c":5,"v":1.20},{"r":7,"c":6,"v":0.98},{"r":7,"c":7,"v":0.82},{"r":7,"c":8,"v":0.78},{"r":7,"c":9,"v":0.76},{"r":7,"c":10,"v":0.75},
{"r":8,"c":0,"v":1.00},{"r":8,"c":1,"v":1.01},{"r":8,"c":2,"v":1.03},{"r":8,"c":3,"v":1.06},{"r":8,"c":4,"v":1.12},{"r":8,"c":5,"v":1.15},{"r":8,"c":6,"v":0.97},{"r":8,"c":7,"v":0.82},{"r":8,"c":8,"v":0.78},{"r":8,"c":9,"v":0.77},{"r":8,"c":10,"v":0.76},
{"r":9,"c":0,"v":0.97},{"r":9,"c":1,"v":0.99},{"r":9,"c":2,"v":1.01},{"r":9,"c":3,"v":1.04},{"r":9,"c":4,"v":1.10},{"r":9,"c":5,"v":1.12},{"r":9,"c":6,"v":0.96},{"r":9,"c":7,"v":0.82},{"r":9,"c":8,"v":0.79},{"r":9,"c":9,"v":0.77},{"r":9,"c":10,"v":0.76},
{"r":10,"c":0,"v":0.95},{"r":10,"c":1,"v":0.97},{"r":10,"c":2,"v":1.00},{"r":10,"c":3,"v":1.03},{"r":10,"c":4,"v":1.08},{"r":10,"c":5,"v":1.10},{"r":10,"c":6,"v":0.95},{"r":10,"c":7,"v":0.82},{"r":10,"c":8,"v":0.79},{"r":10,"c":9,"v":0.78},{"r":10,"c":10,"v":0.77}
],
"microc":[
{"r":0,"c":0,"v":0.78},{"r":0,"c":1,"v":0.78},{"r":0,"c":2,"v":0.78},{"r":0,"c":3,"v":0.80},{"r":0,"c":4,"v":0.84},{"r":0,"c":5,"v":0.84},{"r":0,"c":6,"v":0.70},{"r":0,"c":7,"v":0.66},{"r":0,"c":8,"v":0.64},{"r":0,"c":9,"v":0.62},{"r":0,"c":10,"v":0.60},
{"r":1,"c":0,"v":0.79},{"r":1,"c":1,"v":0.79},{"r":1,"c":2,"v":0.80},{"r":1,"c":3,"v":0.82},{"r":1,"c":4,"v":0.86},{"r":1,"c":5,"v":0.86},{"r":1,"c":6,"v":0.72},{"r":1,"c":7,"v":0.68},{"r":1,"c":8,"v":0.65},{"r":1,"c":9,"v":0.63},{"r":1,"c":10,"v":0.61},
{"r":2,"c":0,"v":0.81},{"r":2,"c":1,"v":0.82},{"r":2,"c":2,"v":0.83},{"r":2,"c":3,"v":0.85},{"r":2,"c":4,"v":0.90},{"r":2,"c":5,"v":0.92},{"r":2,"c":6,"v":0.74},{"r":2,"c":7,"v":0.70},{"r":2,"c":8,"v":0.67},{"r":2,"c":9,"v":0.65},{"r":2,"c":10,"v":0.63},
{"r":3,"c":0,"v":0.84},{"r":3,"c":1,"v":0.85},{"r":3,"c":2,"v":0.87},{"r":3,"c":3,"v":0.90},{"r":3,"c":4,"v":0.98},{"r":3,"c":5,"v":1.05},{"r":3,"c":6,"v":0.80},{"r":3,"c":7,"v":0.74},{"r":3,"c":8,"v":0.70},{"r":3,"c":9,"v":0.68},{"r":3,"c":10,"v":0.66},
{"r":4,"c":0,"v":0.95},{"r":4,"c":1,"v":0.97},{"r":4,"c":2,"v":1.00},{"r":4,"c":3,"v":1.05},{"r":4,"c":4,"v":1.25},{"r":4,"c":5,"v":1.40},{"r":4,"c":6,"v":0.95},{"r":4,"c":7,"v":0.80},{"r":4,"c":8,"v":0.75},{"r":4,"c":9,"v":0.72},{"r":4,"c":10,"v":0.70},
{"r":5,"c":0,"v":1.28},{"r":5,"c":1,"v":1.30},{"r":5,"c":2,"v":1.33},{"r":5,"c":3,"v":1.38},{"r":5,"c":4,"v":1.60},{"r":5,"c":5,"v":1.92},{"r":5,"c":6,"v":1.35},{"r":5,"c":7,"v":0.92},{"r":5,"c":8,"v":0.82},{"r":5,"c":9,"v":0.78},{"r":5,"c":10,"v":0.75},
{"r":6,"c":0,"v":1.18},{"r":6,"c":1,"v":1.20},{"r":6,"c":2,"v":1.22},{"r":6,"c":3,"v":1.28},{"r":6,"c":4,"v":1.48},{"r":6,"c":5,"v":1.65},{"r":6,"c":6,"v":1.10},{"r":6,"c":7,"v":0.88},{"r":6,"c":8,"v":0.80},{"r":6,"c":9,"v":0.77},{"r":6,"c":10,"v":0.75},
{"r":7,"c":0,"v":1.10},{"r":7,"c":1,"v":1.12},{"r":7,"c":2,"v":1.15},{"r":7,"c":3,"v":1.20},{"r":7,"c":4,"v":1.35},{"r":7,"c":5,"v":1.45},{"r":7,"c":6,"v":1.02},{"r":7,"c":7,"v":0.85},{"r":7,"c":8,"v":0.80},{"r":7,"c":9,"v":0.77},{"r":7,"c":10,"v":0.76},
{"r":8,"c":0,"v":1.05},{"r":8,"c":1,"v":1.07},{"r":8,"c":2,"v":1.10},{"r":8,"c":3,"v":1.15},{"r":8,"c":4,"v":1.28},{"r":8,"c":5,"v":1.35},{"r":8,"c":6,"v":1.00},{"r":8,"c":7,"v":0.84},{"r":8,"c":8,"v":0.80},{"r":8,"c":9,"v":0.78},{"r":8,"c":10,"v":0.77},
{"r":9,"c":0,"v":1.00},{"r":9,"c":1,"v":1.03},{"r":9,"c":2,"v":1.06},{"r":9,"c":3,"v":1.10},{"r":9,"c":4,"v":1.22},{"r":9,"c":5,"v":1.30},{"r":9,"c":6,"v":0.98},{"r":9,"c":7,"v":0.84},{"r":9,"c":8,"v":0.80},{"r":9,"c":9,"v":0.78},{"r":9,"c":10,"v":0.77},
{"r":10,"c":0,"v":0.97},{"r":10,"c":1,"v":1.00},{"r":10,"c":2,"v":1.03},{"r":10,"c":3,"v":1.07},{"r":10,"c":4,"v":1.18},{"r":10,"c":5,"v":1.25},{"r":10,"c":6,"v":0.97},{"r":10,"c":7,"v":0.84},{"r":10,"c":8,"v":0.80},{"r":10,"c":9,"v":0.78},{"r":10,"c":10,"v":0.78}
]
},
"bounds":"flush",
"spacing":19,
"resolve":{"scale":{"stroke":"independent","fill":"independent"},"legend":{"stroke":"independent","fill":"independent"}},
"hconcat":[
{
"width":675,"height":500,
"title":{"text":"Quantification on cohesin network","fontSize":25,"fontWeight":"normal","anchor":"middle","offset":12,"color":"black"},
"view":{"stroke":"#222222","strokeWidth":1.2},
"layer":[
{"data":{"name":"curves"},
 "mark":{"type":"area","clip":true,"fillOpacity":0.45,"interpolate":"monotone"},
 "encoding":{
  "x":{"field":"x","type":"quantitative","scale":{"domain":[0,1.011],"nice":false,"zero":false},
   "axis":{"title":"Distance between two cohesin sites (Mb)","values":[0.2,0.4,0.6,0.8,1.0],"format":".1f","grid":false,"domain":false,"tickSize":5,"tickColor":"#222222","labelFontSize":17,"labelColor":"black","labelPadding":8,"titleFontSize":18,"titleFontWeight":"normal","titleColor":"black","titlePadding":9}},
  "y":{"field":"lo","type":"quantitative","scale":{"domain":[-0.069,0.39],"nice":false,"zero":false},
   "axis":{"title":"Loop score","values":[0,0.1,0.2,0.3],"format":".1f","grid":false,"domain":false,"tickSize":5,"tickColor":"#222222","labelFontSize":17,"labelColor":"black","labelPadding":8,"titleFontSize":18,"titleFontWeight":"normal","titleColor":"black","titlePadding":10}},
  "y2":{"field":"hi"},
  "fill":{"field":"s","type":"nominal","scale":{"domain":["ChIA-PET_CTCF GM12878","Hi-C GM12878","HiChIP cohesin GM12878","MicroC HFFc6","SPRITE GM12878"],"range":["#2c9f16","#ef9016","#4dbc7a","#0f0f89","#3789d5"]},"legend":null}
 }},
{"data":{"name":"curves"},
 "mark":{"type":"line","clip":true,"strokeWidth":2.5,"interpolate":"monotone"},
 "encoding":{
  "x":{"field":"x","type":"quantitative","scale":{"domain":[0,1.011],"nice":false,"zero":false}},
  "y":{"field":"y","type":"quantitative","scale":{"domain":[-0.069,0.39],"nice":false,"zero":false},"title":"Loop score"},
  "stroke":{"field":"s","type":"nominal","scale":{"domain":["Hi-C GM12878","ChIA-PET_CTCF GM12878","HiChIP cohesin GM12878","SPRITE GM12878","MicroC HFFc6"],"range":["#f0a334","#64b946","#6cc494","#3d9fdc","#2b479e"]},
   "legend":{"title":null,"orient":"top-right","offset":10,"symbolType":"M-4,0L4,0","symbolSize":100,"symbolStrokeWidth":3,"labelFontSize":19.5,"labelOffset":21,"labelLimit":400,"labelColor":"black","rowPadding":6.8,"padding":9,"strokeColor":"#cccccc","fillColor":"white","cornerRadius":3}}
 }},
{"data":{"values":[{"x":0.125},{"x":0.25}]},
 "mark":{"type":"rule","strokeDash":[1.5,1.5],"color":"#555555","strokeWidth":1},
 "encoding":{"x":{"field":"x","type":"quantitative","scale":{"domain":[0,1.011],"nice":false,"zero":false}}}},
{"data":{"values":[{"x":0.155,"y":0.366,"t":"125 kb"},{"x":0.282,"y":0.325,"t":"250 kb"}]},
 "mark":{"type":"text","align":"left","baseline":"middle","fontSize":28,"color":"black"},
 "encoding":{
  "x":{"field":"x","type":"quantitative","scale":{"domain":[0,1.011],"nice":false,"zero":false}},
  "y":{"field":"y","type":"quantitative","scale":{"domain":[-0.069,0.39],"nice":false,"zero":false}},
  "text":{"field":"t"}}}
]
},
{
"bounds":"full",
"spacing":11,
"vconcat":[
{"data":{"values":[{}]},"width":100,"height":1,"view":{"stroke":null},"mark":{"type":"point","opacity":0,"size":0},"encoding":{}},
{"bounds":"flush","columns":2,"spacing":{"row":65,"column":25},"concat":[
  {"data":{"name":"hic"},"width":100,"height":100,"view":{"stroke":"#aaaaaa"},
   "title":{"text":"Hi-C","orient":"bottom","fontSize":18,"fontWeight":"normal","offset":15,"anchor":"middle","color":"black"},
   "mark":{"type":"rect","width":{"band":1.06},"height":{"band":1.06}},
   "encoding":{"x":{"field":"c","type":"ordinal","axis":null},"y":{"field":"r","type":"ordinal","axis":null},
    "color":{"field":"v","type":"quantitative","scale":{"domain":[0,0.5,1,1.5,2],"range":["#00004d","#0000ff","#ffffff","#ff0000","#800000"],"interpolate":"rgb"},
     "legend":{"title":null,"orient":"none","legendX":947,"legendY":72,"direction":"vertical","gradientLength":313,"gradientThickness":16,"values":[0,0.25,0.5,0.75,1,1.25,1.5,1.75,2],"format":".2f","labelFontSize":12,"labelColor":"#222222","labelOffset":10,"labelBaseline":"middle","labelOverlap":false,"gradientStrokeColor":"#888888","gradientStrokeWidth":0.5,"padding":0}}}},
  {"data":{"name":"chia"},"width":100,"height":100,"view":{"stroke":"#aaaaaa"},
   "title":{"text":["ChIA-PET","CTCF"],"orient":"bottom","fontSize":18,"fontWeight":"normal","offset":9,"anchor":"middle","color":"black"},
   "mark":{"type":"rect","width":{"band":1.06},"height":{"band":1.06}},
   "encoding":{"x":{"field":"c","type":"ordinal","axis":null},"y":{"field":"r","type":"ordinal","axis":null},
    "color":{"field":"v","type":"quantitative","scale":{"domain":[0,0.5,1,1.5,2],"range":["#00004d","#0000ff","#ffffff","#ff0000","#800000"],"interpolate":"rgb"}}}},
  {"data":{"name":"sprite"},"width":100,"height":100,"view":{"stroke":"#aaaaaa"},
   "title":{"text":"DNA SPRITE","orient":"bottom","fontSize":18,"fontWeight":"normal","offset":15,"anchor":"middle","color":"black"},
   "mark":{"type":"rect","width":{"band":1.06},"height":{"band":1.06}},
   "encoding":{"x":{"field":"c","type":"ordinal","axis":null},"y":{"field":"r","type":"ordinal","axis":null},
    "color":{"field":"v","type":"quantitative","scale":{"domain":[0,0.5,1,1.5,2],"range":["#00004d","#0000ff","#ffffff","#ff0000","#800000"],"interpolate":"rgb"}}}},
  {"data":{"name":"hichip"},"width":100,"height":100,"view":{"stroke":"#aaaaaa"},
   "title":{"text":["HiChIP","cohesin"],"orient":"bottom","fontSize":18,"fontWeight":"normal","offset":15,"lineHeight":24,"anchor":"middle","color":"black"},
   "mark":{"type":"rect","width":{"band":1.06},"height":{"band":1.06}},
   "encoding":{"x":{"field":"c","type":"ordinal","axis":null},"y":{"field":"r","type":"ordinal","axis":null},
    "color":{"field":"v","type":"quantitative","scale":{"domain":[0,0.5,1,1.5,2],"range":["#00004d","#0000ff","#ffffff","#ff0000","#800000"],"interpolate":"rgb"}}}},
  {"data":{"name":"microc"},"width":100,"height":100,"view":{"stroke":"#aaaaaa"},
   "title":{"text":"Micro-C","orient":"bottom","fontSize":18,"fontWeight":"normal","offset":17,"anchor":"middle","color":"black"},
   "mark":{"type":"rect","width":{"band":1.06},"height":{"band":1.06}},
   "encoding":{"x":{"field":"c","type":"ordinal","axis":null},"y":{"field":"r","type":"ordinal","axis":null},
    "color":{"field":"v","type":"quantitative","scale":{"domain":[0,0.5,1,1.5,2],"range":["#00004d","#0000ff","#ffffff","#ff0000","#800000"],"interpolate":"rgb"}}}}
]}
]
}
]
}
